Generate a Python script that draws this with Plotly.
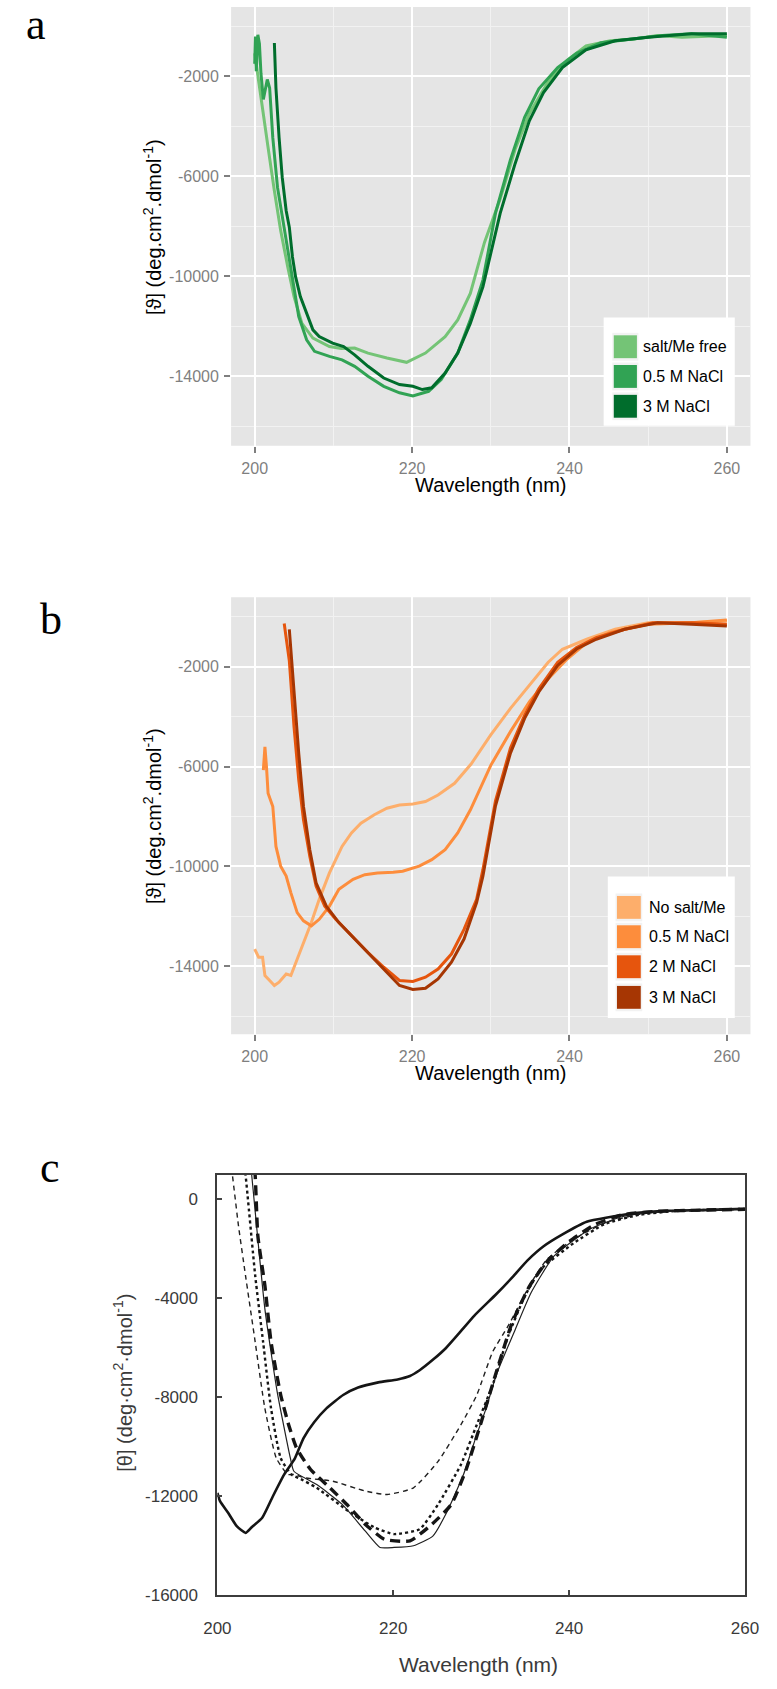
import plotly.graph_objects as go

# ---------------- data ----------------
# panel a
a_names = ["salt/Me free", "0.5 M NaCl", "3 M NaCl"]
a_colors = ["#74C476", "#31A354", "#006D2C"]
a_free_wl = [200.0, 200.2, 200.9, 201.7, 202.5, 203.3, 204.2, 205.0, 206.0, 207.4, 209.5, 211.0, 212.7, 214.4,
             216.8, 219.3, 221.7, 224.2, 225.8, 227.4, 229.2, 231.2, 233.1, 234.9, 237.3, 239.7, 242.1, 245.2,
             248.2, 251.2, 254.3, 257.0, 260.0]
a_free_cd = [-1080, -1500, -3130, -4850, -6580, -8170, -9630, -10820, -11890, -12480, -12820, -12900, -12880, -13080,
             -13280, -13450, -13080, -12420, -11750, -10690, -8650, -6900, -4920, -3500, -2220, -1360, -790, -580,
             -510, -370, -440, -400, -370]
a_05_wl = [200.0, 200.1, 200.2, 200.4, 200.6, 200.8, 201.1, 201.6, 201.9, 202.3, 202.9, 203.8, 204.8, 205.6, 206.6,
           207.6, 209.5, 211.1, 212.7, 214.4, 216.4, 218.4, 220.1, 222.1, 223.7, 225.8, 227.4, 229.0, 230.6, 232.5,
           234.3, 236.1, 238.5, 240.9, 244.0, 248.2, 251.8, 255.5, 260.0]
a_05_cd = [-1500, -410, -1800, -340, -700, -1900, -2930, -2130, -2470, -4460, -6450, -8170, -10160, -11620, -12550,
           -13010, -13210, -13350, -13610, -14010, -14410, -14670, -14800, -14610, -14140, -13080, -11750, -10160,
           -7480, -5340, -3640, -2500, -1650, -1080, -660, -510, -370, -300, -440]
a_3_wl = [202.5, 202.7, 203.1, 203.5, 204.0, 204.4, 204.8, 205.2, 205.8, 206.6, 207.4, 208.2, 209.9, 211.3, 212.7,
          214.4, 216.4, 218.4, 220.1, 221.3, 222.5, 224.2, 225.8, 227.4, 229.0, 231.2, 233.1, 234.9, 236.7, 239.1,
          242.1, 245.8, 250.0, 255.5, 260.0]
a_3_cd = [-670, -2470, -4460, -6050, -7380, -8040, -9230, -10030, -10820, -11490, -12150, -12420, -12680, -12820,
          -13150, -13610, -14080, -14340, -14410, -14540, -14470, -13880, -13080, -11890, -10430, -7480, -5490, -3780,
          -2650, -1650, -940, -580, -440, -300, -300]

# panel b
b_names = ["No salt/Me", "0.5 M NaCl", "2 M NaCl", "3 M NaCl"]
b_colors = ["#FDAE6B", "#FD8D3C", "#E6550D", "#A63603"]
b_none_wl = [200.0, 200.5, 201.0, 201.3, 201.9, 202.5, 203.1, 204.0, 204.6, 205.4, 206.4, 207.2, 208.2, 209.5, 211.1,
             212.3, 213.5, 215.2, 216.8, 218.4, 220.1, 221.7, 223.3, 225.4, 227.5, 230.0, 232.5, 234.9, 237.3, 239.1,
             242.2, 245.8, 250.0, 255.5, 260.0]
b_none_cd = [-13310, -13640, -13640, -14370, -14570, -14770, -14640, -14310, -14370, -13710, -12910, -12250, -11320,
             -10260, -9200, -8660, -8270, -7930, -7670, -7540, -7500, -7400, -7140, -6670, -5900, -4730, -3670, -2750,
             -1820, -1300, -900, -500, -240, -240, -170]
b_05_wl = [201.1, 201.3, 201.5, 201.7, 202.3, 202.7, 203.3, 204.0, 204.6, 205.4, 206.2, 207.2, 208.2, 209.5, 210.7,
           212.5, 214.0, 215.6, 217.6, 218.8, 220.9, 222.5, 224.2, 225.8, 227.4, 229.0, 230.0, 232.5, 234.9, 237.3,
           239.7, 242.2, 245.2, 250.0, 255.5, 260.0]
b_05_cd = [-6140, -5210, -6010, -7070, -7600, -9200, -9990, -10390, -11060, -11850, -12180, -12380, -12120, -11590,
           -10920, -10520, -10330, -10260, -10230, -10190, -9990, -9730, -9330, -8660, -7740, -6670, -5950, -4600,
           -3410, -2480, -1690, -1030, -630, -300, -240, -130]
b_2_wl = [203.75, 204.4, 205.0, 205.6, 206.2, 207.0, 207.8, 208.9, 210.3, 212.3, 214.4, 216.4, 218.4, 220.1, 221.7,
          223.3, 225.0, 226.6, 228.2, 229.0, 230.6, 232.5, 234.3, 236.1, 238.5, 240.9, 243.4, 247.0, 250.6, 255.5,
          260.0]
b_2_cd = [-270, -1760, -4420, -6540, -8130, -9590, -10790, -11590, -12120, -12780, -13450, -14040, -14570, -14610,
          -14440, -14110, -13510, -12520, -11320, -10130, -7370, -5260, -3940, -2880, -1820, -1230, -830, -500, -240,
          -240, -300]
b_3_wl = [204.4, 205.0, 205.6, 206.2, 207.0, 207.8, 209.1, 210.7, 212.7, 214.8, 216.8, 218.4, 220.1, 221.7, 223.3,
          225.0, 226.6, 228.2, 229.0, 230.6, 232.5, 234.3, 236.1, 238.5, 240.9, 243.4, 247.0, 251.2, 255.5, 260.0]
b_3_cd = [-500, -3090, -5480, -7600, -9330, -10660, -11590, -12250, -12910, -13580, -14240, -14770, -14930, -14880,
          -14510, -13840, -12910, -11450, -10390, -7570, -5460, -4070, -3010, -1950, -1290, -900, -500, -240, -300,
          -370]

# panel c
c_none_wl = [200.0, 200.3, 201.2, 202.2, 203.2, 203.9, 205.1, 206.3, 207.6, 208.8, 209.8, 211.0, 212.4, 214.3, 216.0,
             218.3, 220.5, 221.9, 223.0, 224.6, 226.0, 227.5, 229.2, 231.7, 233.4, 235.3, 237.1, 239.3, 242.0, 244.5,
             247.8, 251.0, 255.1, 260.0]
c_none_cd = [-11850, -12190, -12650, -13200, -13470, -13240, -12860, -12000, -11110, -10470, -9640, -9000, -8440,
             -7900, -7600, -7390, -7270, -7130, -6900, -6450, -6000, -5400, -4700, -3830, -3200, -2450, -1890, -1400,
             -900, -720, -540, -460, -430, -380]
c_dash_wl = [201.3, 201.7, 202.4, 203.2, 204.3, 205.4, 206.7, 208.0, 208.7, 210.0, 213.1, 216.8, 219.3, 222.3, 225.1,
             227.7, 229.5, 231.3, 233.1, 235.7, 237.5, 240.5, 244.1, 248.0, 252.0, 256.0, 260.0]
c_dash_cd = [2000, 1000, -1070, -3080, -5760, -8440, -10450, -11110, -11110, -11250, -11380, -11780, -11920, -11650,
             -10580, -9100, -7900, -6160, -5090, -3350, -2410, -1610, -940, -600, -460, -420, -380]
c_dot_wl = [202.9, 203.2, 204.3, 205.2, 206.1, 207.2, 208.4, 209.5, 211.3, 214.9, 217.9, 220.1, 223.0, 225.1, 227.7,
            229.5, 231.3, 233.1, 235.0, 236.8, 240.5, 244.0, 248.0, 252.0, 256.0, 260.0]
c_dot_cd = [1800, 1000, -3080, -5760, -8440, -10450, -11110, -11300, -11650, -12590, -13260, -13520, -13320, -12320,
            -10710, -9100, -7500, -5490, -3880, -2820, -1770, -1000, -620, -470, -420, -380]
c_thin_wl = [203.5, 203.9, 205.4, 206.8, 208.3, 208.7, 211.3, 214.2, 216.8, 218.5, 220.1, 222.3, 224.5, 226.0, 228.0,
             229.5, 230.6, 231.7, 233.9, 235.7, 238.3, 242.3, 246.0, 250.0, 255.0, 260.0]
c_thin_cd = [2500, 1000, -4420, -7770, -10450, -10980, -11520, -12320, -13390, -14060, -14060, -13990, -13600, -12700,
             -11100, -9500, -8400, -7100, -5230, -3750, -2280, -1210, -700, -500, -430, -380]
c_ldash_wl = [203.9, 204.3, 204.6, 205.4, 206.1, 207.2, 208.1, 209.0, 210.6, 212.8, 214.9, 216.8, 219.0, 221.9, 224.4,
              226.6, 228.3, 230.0, 231.7, 233.5, 235.5, 237.5, 240.0, 243.0, 246.0, 250.0, 255.0, 260.0]
c_ldash_cd = [2500, 950, -1470, -3480, -5760, -7900, -9100, -10040, -10910, -11650, -12390, -13120, -13730, -13790,
              -13120, -12320, -10900, -9000, -7000, -5000, -3500, -2500, -1700, -1000, -620, -480, -430, -400]

# ticks
ab_xticks = [200, 220, 240, 260]
ab_xminor = [210, 230, 250]
ab_yticks = [-14000, -10000, -6000, -2000]
ab_yminor = [-16000, -12000, -8000, -4000, 0]
c_xticks = [200, 220, 240, 260]
c_yticks = [-16000, -12000, -8000, -4000, 0]

x_title = "Wavelength (nm)"
ab_y_title = "[\u03d1] (deg.cm<sup>2</sup>.dmol<sup>-1</sup>)"
c_y_title = "[\u03b8] (deg\u00b7cm<sup>2</sup>\u00b7dmol<sup>-1</sup>)"

# ---------------- layout helpers ----------------
W, H = 777, 1689
def fx(px):
    return px / W
def fy(py):
    return 1 - py / H

FONT = "Liberation Sans, Arial, sans-serif"
SERIF = "Liberation Serif, Times New Roman, serif"

fig = go.Figure()

a_series = [(a_free_wl, a_free_cd), (a_05_wl, a_05_cd), (a_3_wl, a_3_cd)]
for (wl, cd), name, col in zip(a_series, a_names, a_colors):
    fig.add_trace(go.Scatter(x=wl, y=cd, mode="lines", name=name, showlegend=False,
                             line=dict(color=col, width=3), xaxis="x", yaxis="y"))

b_series = [(b_none_wl, b_none_cd), (b_05_wl, b_05_cd), (b_2_wl, b_2_cd), (b_3_wl, b_3_cd)]
for (wl, cd), name, col in zip(b_series, b_names, b_colors):
    fig.add_trace(go.Scatter(x=wl, y=cd, mode="lines", name=name, showlegend=False,
                             line=dict(color=col, width=3), xaxis="x2", yaxis="y2"))

c_series = [
    (c_none_wl, c_none_cd, dict(color="#151515", width=2.6)),
    (c_dash_wl, c_dash_cd, dict(color="#202020", width=1.4, dash="5px,4px")),
    (c_dot_wl, c_dot_cd, dict(color="#151515", width=2.4, dash="dot")),
    (c_thin_wl, c_thin_cd, dict(color="#202020", width=1.2)),
    (c_ldash_wl, c_ldash_cd, dict(color="#151515", width=3.4, dash="10px,6px")),
]
for wl, cd, ln in c_series:
    ln = dict(ln, shape="spline", smoothing=0.5)
    fig.add_trace(go.Scatter(x=wl, y=cd, mode="lines", showlegend=False, line=ln,
                             xaxis="x3", yaxis="y3"))

GRAY = "#7F7F7F"

def ab_xaxis(anchor):
    return dict(domain=[fx(225.2), fx(764)], anchor=anchor, range=[197, 263],
                tickmode="array", tickvals=ab_xticks, ticktext=[str(v) for v in ab_xticks],
                ticks="outside", ticklen=6, tickwidth=1.5, tickcolor=GRAY,
                tickfont=dict(family=FONT, size=16, color=GRAY), ticklabelstandoff=2,
                showgrid=True, gridcolor="white", gridwidth=1.8, zeroline=False, showline=False,
                minor=dict(tickmode="array", tickvals=ab_xminor, showgrid=True,
                           gridcolor="#F2F2F2", gridwidth=0.9, ticks=""))

def ab_yaxis(anchor, dom, rng):
    return dict(domain=dom, anchor=anchor, range=rng,
                tickmode="array", tickvals=ab_yticks, ticktext=[str(v) for v in ab_yticks],
                ticks="outside", ticklen=6, tickwidth=1.5, tickcolor=GRAY,
                tickfont=dict(family=FONT, size=16, color=GRAY), ticklabelstandoff=2,
                showgrid=True, gridcolor="white", gridwidth=1.8, zeroline=False, showline=False,
                minor=dict(tickmode="array", tickvals=ab_yminor, showgrid=True,
                           gridcolor="#F2F2F2", gridwidth=0.9, ticks=""))

CTXT = "#3a3a3a"
layout = dict(
    width=W, height=H, margin=dict(l=0, r=0, t=0, b=0),
    paper_bgcolor="white", plot_bgcolor="white",
    xaxis=ab_xaxis("y"),
    yaxis=ab_yaxis("x", [fy(448.3), fy(7)], [-16785, 773]),
    xaxis2=ab_xaxis("y2"),
    yaxis2=ab_yaxis("x2", [fy(1040.4), fy(600.7)], [-16724, 788]),
    xaxis3=dict(domain=[fx(211), fx(758.3)], anchor="y3", range=[200, 260],
                tickmode="array", tickvals=c_xticks, ticktext=[str(v) for v in c_xticks],
                ticks="inside", ticklen=5, tickwidth=1.5, tickcolor="#444",
                tickfont=dict(family=FONT, size=17, color=CTXT), ticklabelstandoff=16,
                showgrid=False, zeroline=False, showline=True, mirror=True,
                linecolor="#3c3c3c", linewidth=2),
    yaxis3=dict(domain=[fy(1605), fy(1181.7)], anchor="x3", range=[-16000, 1000],
                tickmode="array", tickvals=c_yticks, ticktext=[str(v) for v in c_yticks],
                ticks="inside", ticklen=5, tickwidth=1.5, tickcolor="#444",
                tickfont=dict(family=FONT, size=17, color=CTXT), ticklabelstandoff=14,
                showgrid=False, zeroline=False, showline=True, mirror=True,
                linecolor="#3c3c3c", linewidth=2),
)
fig.update_layout(**layout)

shapes = []
annotations = []

# grey panel backgrounds for a and b
for xr, yr in (("x", "y"), ("x2", "y2")):
    shapes.append(dict(type="rect", xref=xr + " domain", yref=yr + " domain", x0=0, x1=1, y0=0, y1=1,
                       fillcolor="#E5E5E5", line=dict(width=0), layer="below"))

def add_legend(box, key_x, text_x, rows, names, colors):
    x0, x1, y0, y1 = box
    shapes.append(dict(type="rect", xref="paper", yref="paper", x0=fx(x0), x1=fx(x1), y0=fy(y1), y1=fy(y0),
                       fillcolor="white", line=dict(width=0), layer="above"))
    for cy, name, col in zip(rows, names, colors):
        shapes.append(dict(type="rect", xref="paper", yref="paper", x0=fx(key_x[0] - 1.5), x1=fx(key_x[1] + 1.5),
                           y0=fy(cy + 14), y1=fy(cy - 14), fillcolor="#F2F2F2", line=dict(width=0),
                           layer="above"))
        shapes.append(dict(type="rect", xref="paper", yref="paper", x0=fx(key_x[0]), x1=fx(key_x[1]),
                           y0=fy(cy + 11.5), y1=fy(cy - 11.5), fillcolor=col, line=dict(width=0),
                           layer="above"))
        annotations.append(dict(text=name, xref="paper", yref="paper", x=fx(text_x), y=fy(cy),
                                xanchor="left", yanchor="middle", showarrow=False,
                                font=dict(family=FONT, size=16, color="black")))

add_legend((611.7, 747.7, 319.3, 428.3), (622.2, 646.2), 650.7, [348.8, 378.7, 408.7], a_names, a_colors)
add_legend((616, 747.7, 881.8, 1024), (625.5, 650.2), 656.7, [912.8, 942.3, 972.5, 1003.3], b_names, b_colors)

def txt(t, px, py, size, color="black", angle=0, family=FONT):
    annotations.append(dict(text=t, xref="paper", yref="paper", x=fx(px), y=fy(py), xanchor="center",
                            yanchor="middle", showarrow=False, textangle=angle,
                            font=dict(family=family, size=size, color=color)))

# axis titles
txt(x_title, 494.5, 487.5, 20)
txt(ab_y_title, 143.6, 228, 20, angle=-90)
txt(x_title, 494.5, 1079.2, 20)
txt(ab_y_title, 143.6, 820.5, 20, angle=-90)
txt(x_title, 482, 1674, 21, color=CTXT)
txt(c_y_title, 113, 1391, 20, color=CTXT, angle=-90)

# panel letters
txt("a", 23, 25, 44, family=SERIF)
txt("b", 38.5, 623.5, 44, family=SERIF)
txt("c", 37.5, 1174.5, 44, family=SERIF)

fig.update_layout(shapes=shapes, annotations=annotations)
fig.write_html("out.html")
